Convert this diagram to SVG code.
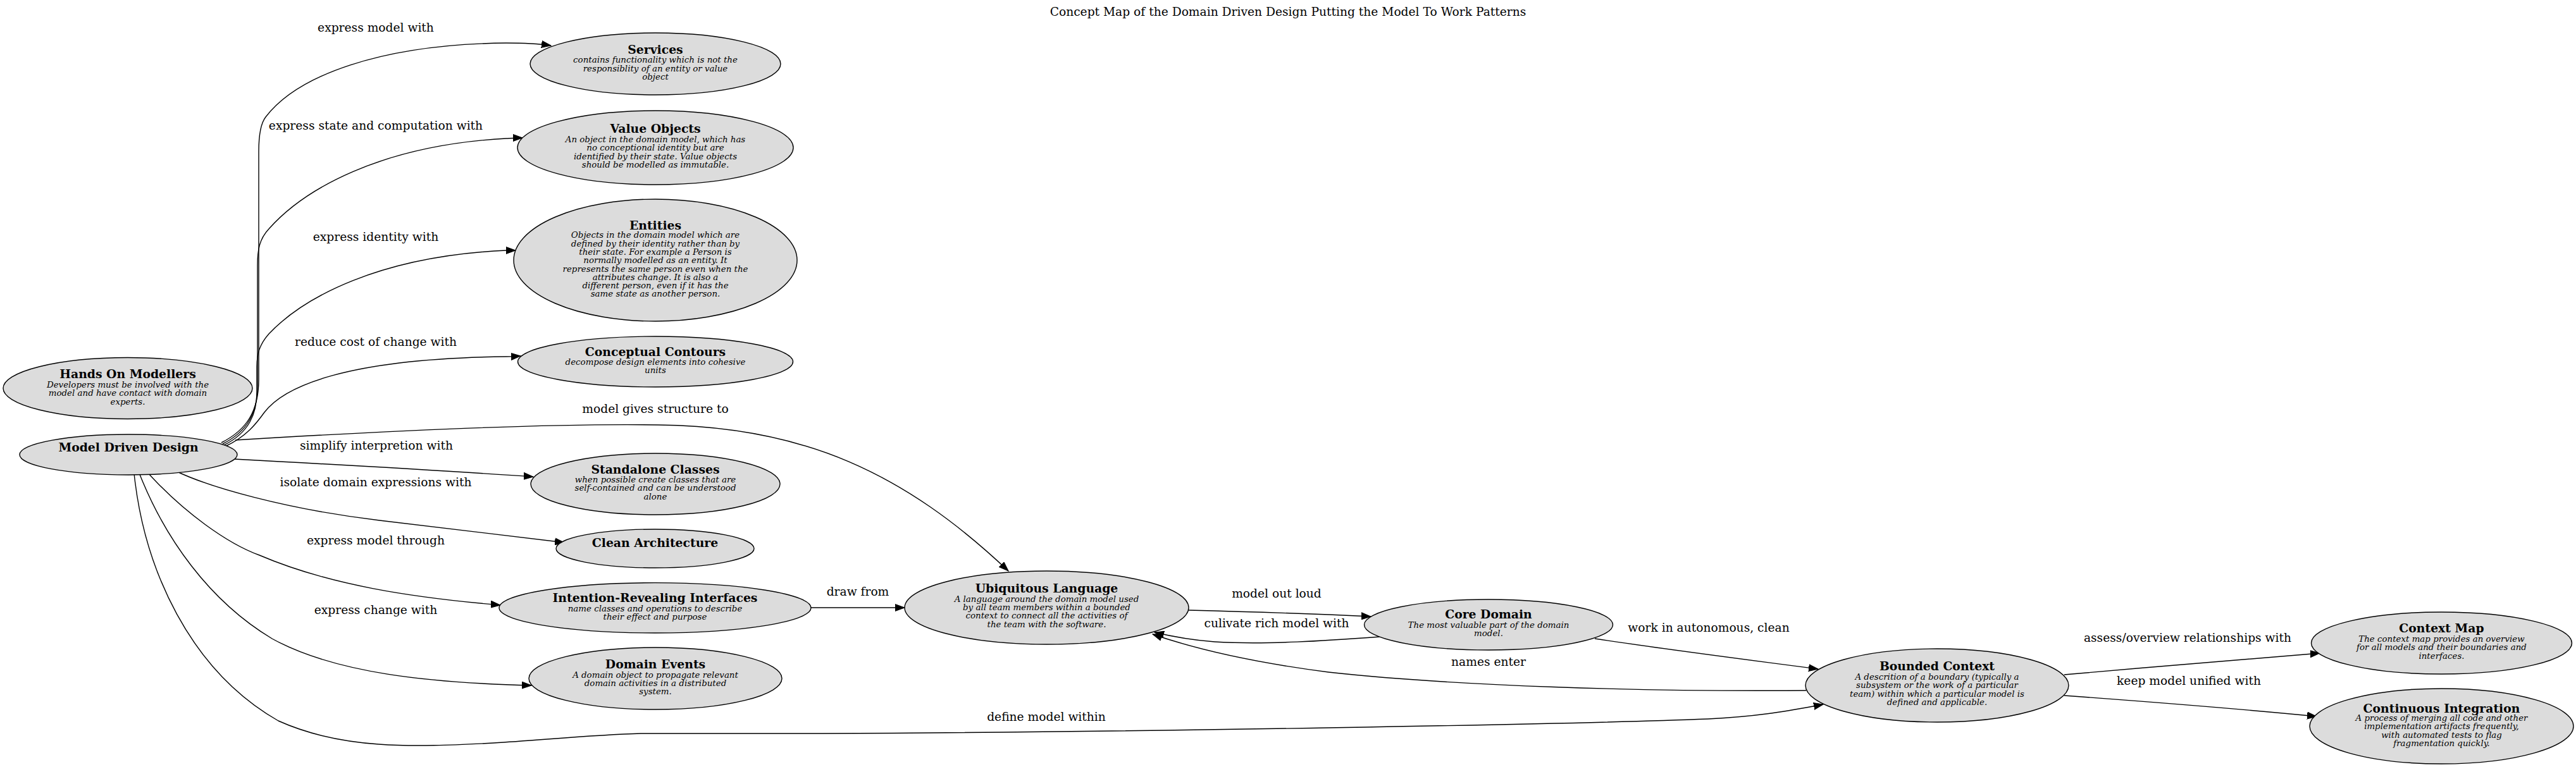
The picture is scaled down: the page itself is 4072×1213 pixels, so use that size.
<svg xmlns="http://www.w3.org/2000/svg" width="4072" height="1213" viewBox="0 0 4072 1213">
<style>
.bg{fill:#ffffff}
.node ellipse{fill:#dcdcdc;stroke:#000;stroke-width:1.4}
.t{font-family:"DejaVu Serif",serif;font-weight:bold;font-size:18.8px;text-anchor:middle;fill:#000}
.d{font-family:"DejaVu Serif",serif;font-style:italic;font-size:13.4px;text-anchor:middle;fill:#000}
.l{font-family:"DejaVu Serif",serif;font-size:18.67px;text-anchor:middle;fill:#000}
.e path{fill:none;stroke:#000;stroke-width:1.4}
</style>
<defs>
<marker id="ah" markerUnits="userSpaceOnUse" markerWidth="16" markerHeight="12" refX="15" refY="5.5" orient="auto" viewBox="0 0 16 11">
<path d="M0,0 L15,5.5 L0,11 z" fill="#000" stroke="#000" stroke-width="1"/>
</marker>
</defs>
<rect class="bg" x="0" y="0" width="4072" height="1213"/>
<text class="l" x="2036" y="25">Concept Map of the Domain Driven Design Putting the Model To Work Patterns</text>

<g id="connectors" class="e">
<path marker-end="url(#ah)" d="M350,700 C390,680 409,650 409,600 L409,240 C409,215 412,195 420,185 C470,120 600,70 800,68 C830,68 850,69 871,72"/>
<path marker-end="url(#ah)" d="M352,702 C392,682 407,652 407,610 L407,420 C407,395 410,378 425,362 C480,300 600,230 800,219 C810,218.5 818,218 826,218"/>
<path marker-end="url(#ah)" d="M354,704 C394,684 406,654 406,620 L406,580 C406,560 410,545 425,528 C480,470 600,405 800,396 C805,396 810,396 815,396"/>
<path marker-end="url(#ah)" d="M356,706 C390,690 405,670 418,652 C450,610 550,567 800,564 C808,564 815,563.5 823,563"/>
<path marker-end="url(#ah)" d="M372,696 C700,676 900,670 1040,672 C1270,674 1430,748 1594,903"/>
<path marker-end="url(#ah)" d="M370,726 C500,733 700,744 843,754"/>
<path marker-end="url(#ah)" d="M278,745 C330,770 450,805 600,823 C720,838 820,850 892,858"/>
<path marker-end="url(#ah)" d="M234,748 C290,810 360,860 410,878 C520,925 650,945 791,957"/>
<path marker-end="url(#ah)" d="M220,748 C260,850 330,950 430,1010 C530,1065 680,1080 840,1084"/>
<path marker-end="url(#ah)" d="M212,749 C228,900 300,1060 440,1140 C540,1185 650,1182 780,1175 C860,1170 940,1162 1013,1160 L1300,1160 C1800,1158 2500,1145 2700,1137 C2780,1133 2830,1124 2882,1114"/>
<path marker-end="url(#ah)" d="M1282,961 L1430,961"/>
<path marker-end="url(#ah)" d="M1879,965 C1960,967 2080,971 2167,975"/>
<path marker-end="url(#ah)" d="M2182,1007 C2100,1013 2000,1020 1920,1015 C1880,1012 1850,1006 1825,1000"/>
<path marker-end="url(#ah)" d="M2855,1092 C2600,1094 2300,1085 2100,1063 C2000,1050 1900,1030 1822,1003"/>
<path marker-end="url(#ah)" d="M2521,1010 C2600,1022 2750,1042 2874,1058"/>
<path marker-end="url(#ah)" d="M3263,1067 C3400,1055 3550,1042 3667,1033"/>
<path marker-end="url(#ah)" d="M3263,1100 C3400,1110 3550,1122 3662,1133"/>
<text class="l" x="594" y="50">express model with</text>
<text class="l" x="594" y="205">express state and computation with</text>
<text class="l" x="594" y="381">express identity with</text>
<text class="l" x="594" y="547">reduce cost of change with</text>
<text class="l" x="1036" y="653">model gives structure to</text>
<text class="l" x="595" y="711">simplify interpretion with</text>
<text class="l" x="594" y="769">isolate domain expressions with</text>
<text class="l" x="594" y="861">express model through</text>
<text class="l" x="594" y="971">express change with</text>
<text class="l" x="1654" y="1140">define model within</text>
<text class="l" x="1356" y="942">draw from</text>
<text class="l" x="2018" y="945">model out loud</text>
<text class="l" x="2018" y="992">culivate rich model with</text>
<text class="l" x="2353" y="1053">names enter</text>
<text class="l" x="2701" y="999">work in autonomous, clean</text>
<text class="l" x="3458" y="1015">assess/overview relationships with</text>
<text class="l" x="3460" y="1083">keep model unified with</text>
</g>

<g id="services" class="node">
<ellipse cx="1036" cy="101" rx="198" ry="49"/>
<text class="t" x="1036" y="85">Services</text>
<text class="d" x="1036" y="99.3">contains functionality which is not the</text>
<text class="d" x="1036" y="112.7">responsiblity of an entity or value</text>
<text class="d" x="1036" y="126">object</text>
</g>
<g id="value-objects" class="node">
<ellipse cx="1036" cy="233.5" rx="218" ry="58.5"/>
<text class="t" x="1036" y="210">Value Objects</text>
<text class="d" x="1036" y="225">An object in the domain model, which has</text>
<text class="d" x="1036" y="238.3">no conceptional identity but are</text>
<text class="d" x="1036" y="251.7">identified by their state. Value objects</text>
<text class="d" x="1036" y="265">should be modelled as immutable.</text>
</g>
<g id="entities" class="node">
<ellipse cx="1036" cy="411.5" rx="224" ry="96.5"/>
<text class="t" x="1036" y="363">Entities</text>
<text class="d" x="1036" y="376.3">Objects in the domain model which are</text>
<text class="d" x="1036" y="389.6">defined by their identity rather than by</text>
<text class="d" x="1036" y="402.9">their state. For example a Person is</text>
<text class="d" x="1036" y="416.2">normally modelled as an entity. It</text>
<text class="d" x="1036" y="429.5">represents the same person even when the</text>
<text class="d" x="1036" y="442.8">attributes change. It is also a</text>
<text class="d" x="1036" y="456.1">different person, even if it has the</text>
<text class="d" x="1036" y="469.4">same state as another person.</text>
</g>
<g id="conceptual-contours" class="node">
<ellipse cx="1036" cy="572" rx="217.5" ry="40"/>
<text class="t" x="1036" y="563">Conceptual Contours</text>
<text class="d" x="1036" y="577">decompose design elements into cohesive</text>
<text class="d" x="1036" y="590.3">units</text>
</g>
<g id="hands-on-modellers" class="node">
<ellipse cx="202" cy="614" rx="197" ry="48.5"/>
<text class="t" x="202" y="598">Hands On Modellers</text>
<text class="d" x="202" y="613">Developers must be involved with the</text>
<text class="d" x="202" y="626.3">model and have contact with domain</text>
<text class="d" x="202" y="639.6">experts.</text>
</g>
<g id="model-driven-design" class="node">
<ellipse cx="203" cy="719" rx="172" ry="32"/>
<text class="t" x="203" y="714">Model Driven Design</text>
</g>
<g id="standalone-classes" class="node">
<ellipse cx="1036" cy="765.5" rx="197" ry="48.5"/>
<text class="t" x="1036" y="749">Standalone Classes</text>
<text class="d" x="1036" y="763">when possible create classes that are</text>
<text class="d" x="1036" y="776.3">self-contained and can be understood</text>
<text class="d" x="1036" y="789.6">alone</text>
</g>
<g id="clean-architecture" class="node">
<ellipse cx="1035.5" cy="867.5" rx="156.5" ry="30.5"/>
<text class="t" x="1035.5" y="865">Clean Architecture</text>
</g>
<g id="intention-revealing-interfaces" class="node">
<ellipse cx="1035.5" cy="961.3" rx="246.5" ry="39.7"/>
<text class="t" x="1035.5" y="951.7">Intention-Revealing Interfaces</text>
<text class="d" x="1035.5" y="966.7">name classes and operations to describe</text>
<text class="d" x="1035.5" y="980">their effect and purpose</text>
</g>
<g id="domain-events" class="node">
<ellipse cx="1036" cy="1073" rx="200" ry="49"/>
<text class="t" x="1036" y="1057">Domain Events</text>
<text class="d" x="1036" y="1071.7">A domain object to propagate relevant</text>
<text class="d" x="1036" y="1085">domain activities in a distributed</text>
<text class="d" x="1036" y="1098.3">system.</text>
</g>
<g id="ubiquitous-language" class="node">
<ellipse cx="1654.5" cy="961" rx="224.5" ry="58"/>
<text class="t" x="1654.5" y="936.7">Ubiquitous Language</text>
<text class="d" x="1654.5" y="951.7">A language around the domain model used</text>
<text class="d" x="1654.5" y="965">by all team members within a bounded</text>
<text class="d" x="1654.5" y="978.3">context to connect all the activities of</text>
<text class="d" x="1654.5" y="991.6">the team with the software.</text>
</g>
<g id="core-domain" class="node">
<ellipse cx="2353" cy="988" rx="196.5" ry="40"/>
<text class="t" x="2353" y="978">Core Domain</text>
<text class="d" x="2353" y="993">The most valuable part of the domain</text>
<text class="d" x="2353" y="1006.3">model.</text>
</g>
<g id="bounded-context" class="node">
<ellipse cx="3062" cy="1084" rx="208" ry="58"/>
<text class="t" x="3062" y="1060">Bounded Context</text>
<text class="d" x="3062" y="1075">A descrition of a boundary (typically a</text>
<text class="d" x="3062" y="1088.3">subsystem or the work of a particular</text>
<text class="d" x="3062" y="1101.6">team) within which a particular model is</text>
<text class="d" x="3062" y="1114.9">defined and applicable.</text>
</g>
<g id="context-map" class="node">
<ellipse cx="3859.5" cy="1017" rx="206" ry="49"/>
<text class="t" x="3859.5" y="1000">Context Map</text>
<text class="d" x="3859.5" y="1015">The context map provides an overview</text>
<text class="d" x="3859.5" y="1028.3">for all models and their boundaries and</text>
<text class="d" x="3859.5" y="1041.6">interfaces.</text>
</g>
<g id="continuous-integration" class="node">
<ellipse cx="3859.5" cy="1148.5" rx="208.5" ry="59.5"/>
<text class="t" x="3859.5" y="1126.7">Continuous Integration</text>
<text class="d" x="3859.5" y="1140">A process of merging all code and other</text>
<text class="d" x="3859.5" y="1153.3">implementation artifacts frequently,</text>
<text class="d" x="3859.5" y="1166.6">with automated tests to flag</text>
<text class="d" x="3859.5" y="1179.9">fragmentation quickly.</text>
</g>
</svg>
